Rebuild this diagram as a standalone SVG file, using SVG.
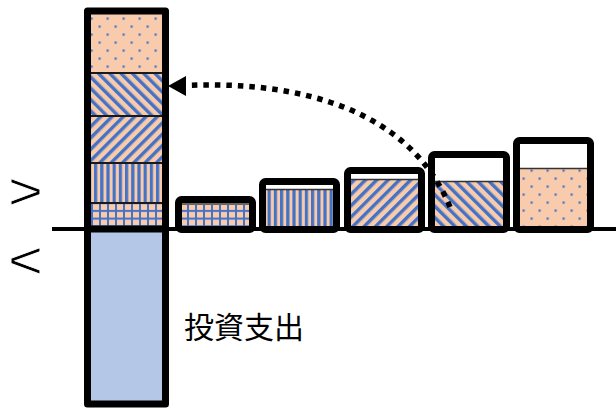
<svg xmlns="http://www.w3.org/2000/svg" width="616" height="408" viewBox="0 0 616 408">
<style>
.frame{fill:none;stroke:#000;stroke-width:7;stroke-linejoin:round}
.sep{stroke:#1a1a1a;stroke-width:2}
.thin{stroke:#333;stroke-width:1.5}
.lbl{font-family:"Noto Sans CJK JP","Noto Sans",sans-serif;fill:#000}
.sym{font-family:"Liberation Sans",sans-serif;fill:#000;stroke:#fff;stroke-width:0.9}
</style>
<defs>
<pattern id="pDots" width="16" height="16" patternUnits="userSpaceOnUse" x="10.5" y="1.5">
<rect width="16" height="16" fill="#F8CBAD"/>
<rect x="0" y="0" width="2.2" height="2.2" fill="#4472C4"/>
<rect x="8" y="8" width="2.2" height="2.2" fill="#4472C4"/>
</pattern>
<pattern id="pDown" width="8" height="8" patternUnits="userSpaceOnUse" patternTransform="rotate(-45)">
<rect width="8" height="8" fill="#F8CBAD"/>
<rect width="3.4" height="8" fill="#4472C4"/>
</pattern>
<pattern id="pUp" width="8" height="8" patternUnits="userSpaceOnUse" patternTransform="rotate(45)">
<rect width="8" height="8" fill="#F8CBAD"/>
<rect width="3.4" height="8" fill="#4472C4"/>
</pattern>
<pattern id="pVert" width="6.2" height="10" patternUnits="userSpaceOnUse" x="1">
<rect width="6.2" height="10" fill="#F8CBAD"/>
<rect width="3.2" height="10" fill="#4472C4"/>
</pattern>
<pattern id="pGrid" width="8" height="7.7" patternUnits="userSpaceOnUse" x="3" y="2">
<rect width="8" height="7.7" fill="#F8CBAD"/>
<rect width="2" height="7.7" fill="#4472C4"/>
<rect width="8" height="2" fill="#4472C4"/>
</pattern>
</defs>

<line x1="52" y1="229" x2="616" y2="229" stroke="#000" stroke-width="4"/>

<g id="column">
<rect x="91" y="14" width="71" height="59" fill="url(#pDots)"/>
<rect x="91" y="73" width="71" height="43" fill="url(#pDown)"/>
<rect x="91" y="116" width="71" height="47" fill="url(#pUp)"/>
<rect x="91" y="163" width="71" height="40" fill="url(#pVert)"/>
<rect x="91" y="203" width="71" height="24" fill="url(#pGrid)"/>
<rect x="91" y="231" width="71" height="171" fill="#B4C7E7"/>
<line class="sep" x1="91" y1="73" x2="162" y2="73"/>
<line class="sep" x1="91" y1="116" x2="162" y2="116"/>
<line class="sep" x1="91" y1="163" x2="162" y2="163"/>
<line class="sep" x1="91" y1="203" x2="162" y2="203"/>
<line x1="88" y1="229" x2="165" y2="229" stroke="#000" stroke-width="7"/>
<rect class="frame" x="87.5" y="11" width="78" height="393"/>
</g>

<g id="bar1">
<rect x="182" y="205" width="67" height="22" fill="url(#pGrid)"/>
<line class="thin" x1="182" y1="204" x2="249" y2="204"/>
<rect class="frame" x="178.5" y="199.5" width="74" height="30" rx="3"/>
</g>
<g id="bar2">
<rect x="266" y="190" width="67" height="37" fill="url(#pVert)"/>
<line class="thin" x1="266" y1="189.5" x2="333" y2="189.5"/>
<rect class="frame" x="262.5" y="181.5" width="74" height="48" rx="3"/>
</g>
<g id="bar3">
<rect x="351" y="180" width="67" height="47" fill="url(#pUp)"/>
<line class="thin" x1="351" y1="179.5" x2="418" y2="179.5"/>
<rect class="frame" x="347.5" y="170.5" width="74" height="59" rx="3"/>
</g>
<g id="bar4">
<rect x="435" y="182" width="68" height="45" fill="url(#pDown)"/>
<line class="thin" x1="435" y1="181.5" x2="503" y2="181.5"/>
<rect class="frame" x="431.5" y="154.5" width="75" height="75" rx="3"/>
</g>
<g id="bar5">
<rect x="520" y="169" width="67" height="58" fill="url(#pDots)"/>
<line class="thin" x1="520" y1="168.5" x2="587" y2="168.5"/>
<rect class="frame" x="516.5" y="140.5" width="74" height="89" rx="3"/>
</g>

<g id="connectors">
<path d="M450,207 C410,110 300,80 184,85.5" fill="none" stroke="#000" stroke-width="5.5" stroke-dasharray="5.5 6"/>
<path d="M168,86 L186,76 L186,96 z" fill="#000"/>
</g>

<g id="labels">
<text class="sym" x="0" y="0" font-size="52" text-anchor="middle" transform="translate(25.5,209) scale(1.15,1)">&gt;</text>
<text class="sym" x="0" y="0" font-size="52" text-anchor="middle" transform="translate(25.5,278) scale(1.15,1)">&lt;</text>
<text class="lbl" x="184" y="338" font-size="30">投資支出</text>
</g>
</svg>
